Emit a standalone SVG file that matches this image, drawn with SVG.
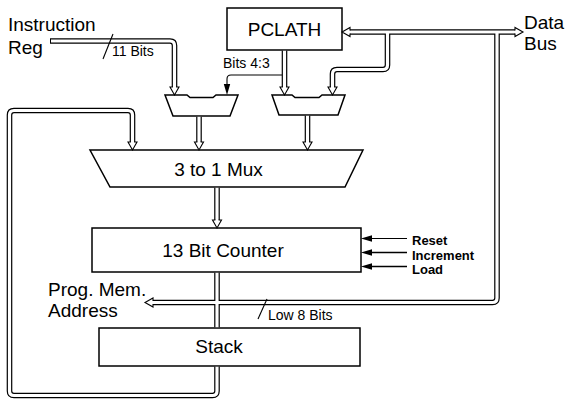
<svg xmlns="http://www.w3.org/2000/svg" xmlns:xlink="http://www.w3.org/1999/xlink" width="566" height="401" viewBox="0 0 566 401">
<style>
  .box { fill:#fff; stroke:#000; stroke-width:1.5; }
  .lbl { font-family:"Liberation Sans", Arial, sans-serif; fill:#000; }
  .big { font-size:19px; }
  .sm { font-size:14px; }
  .bold { font-size:13px; font-weight:bold; }
  .bo { fill:none; stroke:#000; stroke-width:5.6; stroke-linejoin:round; }
  .bi { fill:none; stroke:#fff; stroke-width:3.2; stroke-linejoin:round; }
  .ah { fill:#fff; stroke:#000; stroke-width:1.1; stroke-linejoin:miter; }
  .thin { fill:none; stroke:#000; stroke-width:1.1; }
  .fa { fill:#000; stroke:none; }
</style>
<defs>
  <path id="ah" d="M-1.6,-8 L-4.5,-8 L0,0 L4.5,-8 L1.6,-8"/>
  <path id="fa" d="M0,0 L-3.2,-11 L3.2,-11 Z"/>
  <path id="b1" d="M50,41 H170 Q174.5,41 174.5,45.5 V87"/>
  <path id="b1i" d="M51,41 H170 Q174.5,41 174.5,45.5 V87"/>
  <path id="b2" d="M284.5,50.8 V87"/>
  <path id="b3" d="M350,32 H515"/>
  <path id="b4" d="M387.5,32 V65 Q387.5,69.5 383,69.5 H337 Q332.5,69.5 332.5,74 V87"/>
  <path id="b5" d="M497,32 V298 Q497,302.5 492.5,302.5 H153"/>
  <path id="b6" d="M199,116.8 V142"/>
  <path id="b7" d="M307.5,115.8 V142"/>
  <path id="b8" d="M217,187.8 V220"/>
  <path id="b9" d="M217,272.8 V327.2"/>
  <path id="b10" d="M217,366.8 V391 Q217,395.5 212.5,395.5 H14 Q9.5,395.5 9.5,391 V115 Q9.5,110.5 14,110.5 H128 Q132.5,110.5 132.5,115 V142"/>
</defs>

<g id="pclath">
  <rect class="box" x="227" y="8" width="115" height="42"/>
  <text class="lbl big" x="284.5" y="36" text-anchor="middle">PCLATH</text>
</g>
<g id="mux1">
  <polygon class="box" points="165,95 187,95 190,97.5 213,97.5 216,95 238,95 230,116 173,116"/>
</g>
<g id="mux2">
  <polygon class="box" points="272,95 292,95 295,97.5 319,97.5 322,95 345,95 338,115 279,115"/>
</g>
<g id="mux3">
  <polygon class="box" points="90,150 363,150 345,187 110,187"/>
  <text class="lbl big" x="218.5" y="176" text-anchor="middle">3 to 1 Mux</text>
</g>
<g id="counter">
  <rect class="box" x="92" y="228" width="269" height="44"/>
  <text class="lbl big" x="223" y="257" text-anchor="middle">13 Bit Counter</text>
</g>
<g id="stack">
  <rect class="box" x="99" y="328" width="261" height="38"/>
  <text class="lbl big" x="219" y="353" text-anchor="middle">Stack</text>
</g>
<g id="instruction-reg">
  <text class="lbl big" x="8" y="31">Instruction</text>
  <text class="lbl big" x="8" y="54">Reg</text>
</g>
<g id="data-bus">
  <text class="lbl big" x="524" y="29">Data</text>
  <text class="lbl big" x="524" y="50">Bus</text>
</g>
<g id="prog-mem">
  <text class="lbl big" x="48" y="296">Prog. Mem.</text>
  <text class="lbl big" x="48" y="317">Address</text>
</g>
<g id="controls">
  <line class="thin" x1="370" y1="238.5" x2="407" y2="238.5"/>
  <line class="thin" x1="370" y1="252.5" x2="407" y2="252.5" style="stroke-width:1.6"/>
  <line class="thin" x1="370" y1="266.5" x2="407" y2="266.5" style="stroke-width:1.4"/>
  <use href="#fa" class="fa" transform="translate(361,238.5) rotate(90)"/>
  <use href="#fa" class="fa" transform="translate(361,252.5) rotate(90)"/>
  <use href="#fa" class="fa" transform="translate(361,266.5) rotate(90)"/>
  <text class="lbl bold" x="412" y="245">Reset</text>
  <text class="lbl bold" x="412" y="259.5">Increment</text>
  <text class="lbl bold" x="412" y="274">Load</text>
</g>

<g id="connectors">
  <g class="bo">
    <use href="#b1"/><use href="#b2"/><use href="#b3"/><use href="#b4"/><use href="#b5"/>
    <use href="#b6"/><use href="#b7"/><use href="#b8"/><use href="#b9"/><use href="#b10"/>
  </g>
  <g class="bi">
    <use href="#b1i"/><use href="#b2"/><use href="#b3"/><use href="#b4"/><use href="#b5"/>
    <use href="#b6"/><use href="#b7"/><use href="#b8"/><use href="#b9"/><use href="#b10"/>
  </g>
  <g class="ah">
    <use href="#ah" transform="translate(174.5,95)"/>
    <use href="#ah" transform="translate(284.5,95)"/>
    <use href="#ah" transform="translate(332.5,95)"/>
    <use href="#ah" transform="translate(342,32) rotate(90)"/>
    <use href="#ah" transform="translate(523,32) rotate(-90)"/>
    <use href="#ah" transform="translate(145,302.5) rotate(90)"/>
    <use href="#ah" transform="translate(199,150)"/>
    <use href="#ah" transform="translate(307.5,150)"/>
    <use href="#ah" transform="translate(217,228)"/>
    <use href="#ah" transform="translate(132.5,150)"/>
  </g>
  <path class="thin" d="M282,75 H231 Q227,75 227,79 V84"/>
  <use href="#fa" class="fa" transform="translate(227,95)"/>
  <line class="thin" x1="103" y1="59" x2="113" y2="34"/>
  <line class="thin" x1="258" y1="319" x2="267" y2="299"/>
  <text class="lbl sm" x="112" y="56">11 Bits</text>
  <text class="lbl sm" x="223" y="68">Bits 4:3</text>
  <text class="lbl sm" x="268" y="320">Low 8 Bits</text>
</g>
</svg>
